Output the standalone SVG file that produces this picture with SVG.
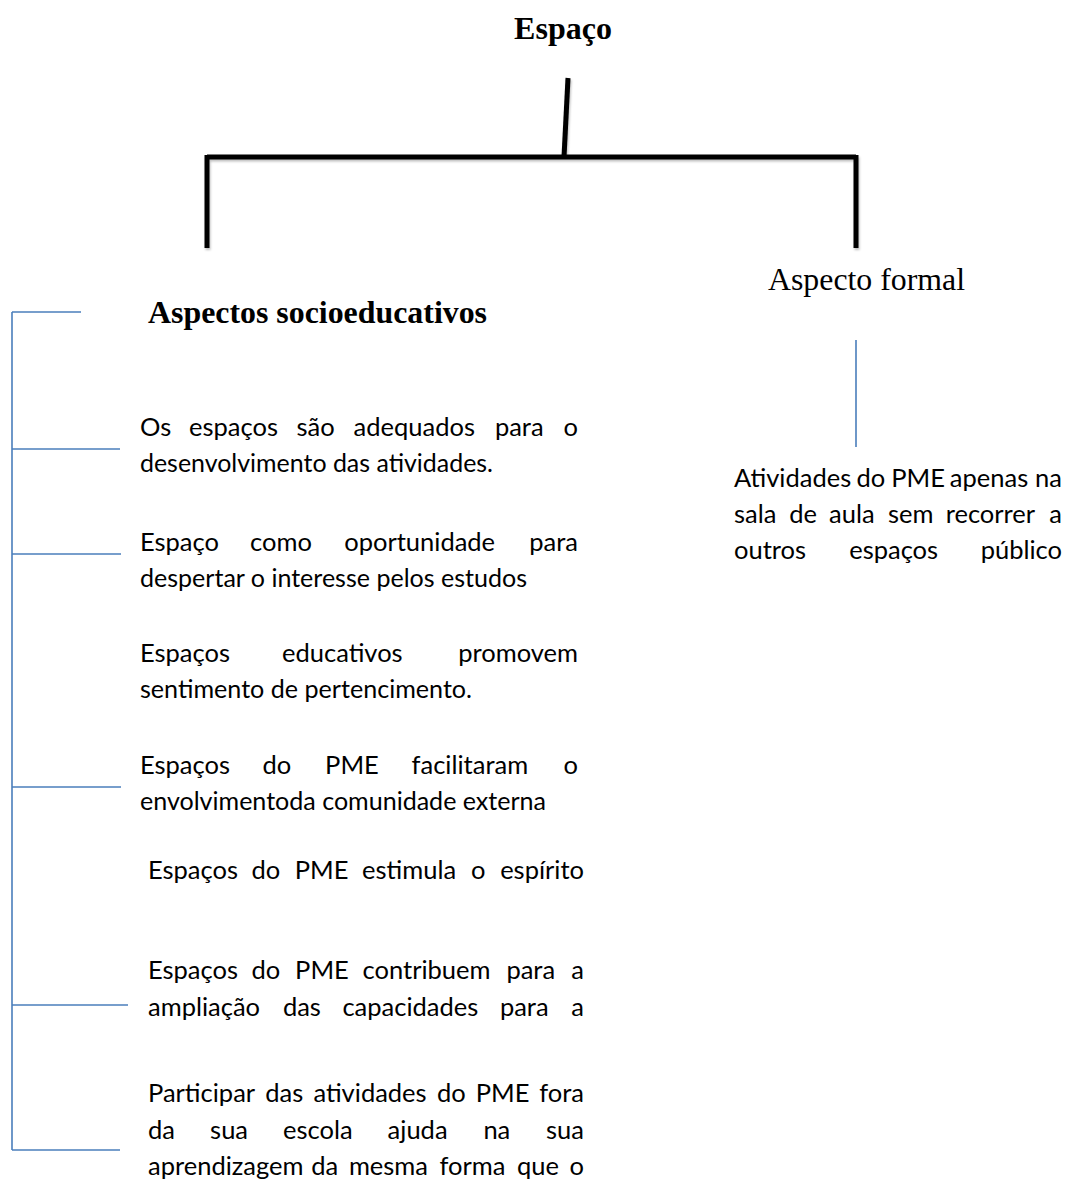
<svg xmlns="http://www.w3.org/2000/svg" width="1066" height="1183" viewBox="0 0 1066 1183">
  <defs>
    <filter id="soft" x="-5%" y="-5%" width="110%" height="120%">
      <feDropShadow dx="1" dy="2" stdDeviation="1.2" flood-color="#000" flood-opacity="0.25"/>
    </filter>
    <style>
      .title { font-family: "Liberation Serif", "Times New Roman", serif; font-size: 32px; fill: #000; }
      .bold { font-weight: bold; }
      .body { font-family: Lato, "Liberation Sans", sans-serif; font-size: 25.5px; fill: #000; }
      .end { text-anchor: end; }
      .tree { fill: none; stroke: #000; stroke-width: 5; stroke-linecap: butt; }
      .blue { fill: none; stroke: #4a7ebb; stroke-width: 1.6; }
    </style>
  </defs>
  <rect width="1066" height="1183" fill="#fff"/>

  <!-- connectors -->
  <g id="connectors">
    <g filter="url(#soft)">
      <path class="tree" d="M568 78 L564 157"/>
      <path class="tree" d="M207 157 L856 157"/>
      <path class="tree" d="M207 155 L207 248"/>
      <path class="tree" d="M856 155 L856 248"/>
    </g>
    <path class="blue" d="M12 312 L12 1150"/>
    <path class="blue" d="M12 312 L81 312"/>
    <path class="blue" d="M12 449 L120 449"/>
    <path class="blue" d="M12 554 L121 554"/>
    <path class="blue" d="M12 787 L121 787"/>
    <path class="blue" d="M12 1005 L128 1005"/>
    <path class="blue" d="M12 1150 L120 1150"/>
    <path class="blue" d="M856 340 L856 447"/>
  </g>

  <!-- root -->
  <g id="espaco">
    <text class="title bold" x="563" y="39" text-anchor="middle">Espaço</text>
  </g>

  <!-- left branch -->
  <g id="socioeducativos">
    <text class="title bold" x="148" y="323" textLength="339" lengthAdjust="spacingAndGlyphs">Aspectos socioeducativos</text>
  </g>

  <!-- justified lines: one text per word, equal gaps -->
  <g id="item-adequados" class="body">
    <text x="140" y="436">Os</text>
    <text x="189" y="436">espaços</text>
    <text x="296.5" y="436">são</text>
    <text x="353.6" y="436">adequados</text>
    <text x="494.9" y="436">para</text>
    <text class="end" x="578" y="436">o</text>
    <text x="140" y="472" textLength="353" lengthAdjust="spacingAndGlyphs">desenvolvimento das atividades.</text>
  </g>

  <g id="item-oportunidade" class="body">
    <text x="140" y="551">Espaço</text>
    <text x="250" y="551">como</text>
    <text x="344.2" y="551">oportunidade</text>
    <text class="end" x="578" y="551">para</text>
    <text x="140" y="587" textLength="387" lengthAdjust="spacingAndGlyphs">despertar o interesse pelos estudos</text>
  </g>

  <g id="item-pertencimento" class="body">
    <text x="140" y="662">Espaços</text>
    <text x="282" y="662">educativos</text>
    <text class="end" x="578" y="662">promovem</text>
    <text x="140" y="698" textLength="332" lengthAdjust="spacingAndGlyphs">sentimento de pertencimento.</text>
  </g>

  <g id="item-comunidade" class="body">
    <text x="140" y="774">Espaços</text>
    <text x="262.6" y="774">do</text>
    <text x="325.1" y="774">PME</text>
    <text x="411.6" y="774">facilitaram</text>
    <text class="end" x="578" y="774">o</text>
    <text x="140" y="810" textLength="406" lengthAdjust="spacingAndGlyphs">envolvimentoda comunidade externa</text>
  </g>

  <g id="item-espirito" class="body">
    <text x="148" y="879">Espaços</text>
    <text x="251.4" y="879">do</text>
    <text x="294.7" y="879">PME</text>
    <text x="362" y="879">estimula</text>
    <text x="471.1" y="879">o</text>
    <text class="end" x="584" y="879">espírito</text>
  </g>

  <g id="item-capacidades" class="body">
    <text x="148" y="979">Espaços</text>
    <text x="251.6" y="979">do</text>
    <text x="295.1" y="979">PME</text>
    <text x="362.6" y="979">contribuem</text>
    <text x="506.4" y="979">para</text>
    <text class="end" x="584" y="979">a</text>
    <text x="148" y="1016">ampliação</text>
    <text x="282.9" y="1016">das</text>
    <text x="342.4" y="1016">capacidades</text>
    <text x="499.9" y="1016">para</text>
    <text class="end" x="584" y="1016">a</text>
  </g>

  <g id="item-aprendizagem" class="body">
    <text x="148" y="1102">Participar</text>
    <text x="265.2" y="1102">das</text>
    <text x="313.4" y="1102">atividades</text>
    <text x="436.9" y="1102">do</text>
    <text x="475.7" y="1102">PME</text>
    <text class="end" x="584" y="1102">fora</text>
    <text x="148" y="1139">da</text>
    <text x="210.1" y="1139">sua</text>
    <text x="283.1" y="1139">escola</text>
    <text x="387.6" y="1139">ajuda</text>
    <text x="483.4" y="1139">na</text>
    <text class="end" x="584" y="1139">sua</text>
    <text x="148" y="1175">aprendizagem</text>
    <text x="311.2" y="1175">da</text>
    <text x="348.9" y="1175">mesma</text>
    <text x="439.6" y="1175">forma</text>
    <text x="516.9" y="1175">que</text>
    <text class="end" x="584" y="1175">o</text>
  </g>

  <!-- right branch -->
  <g id="formal">
    <text class="title" x="768" y="290" textLength="197" lengthAdjust="spacingAndGlyphs">Aspecto formal</text>
  </g>

  <g id="item-sala" class="body">
    <text x="734" y="487">Atividades</text>
    <text x="856.6" y="487">do</text>
    <text x="891.2" y="487">PME</text>
    <text x="949.8" y="487">apenas</text>
    <text class="end" x="1062" y="487">na</text>
    <text x="734" y="523">sala</text>
    <text x="789.2" y="523">de</text>
    <text x="829.1" y="523">aula</text>
    <text x="887.9" y="523">sem</text>
    <text x="945.7" y="523">recorrer</text>
    <text class="end" x="1062" y="523">a</text>
    <text x="734" y="559">outros</text>
    <text x="849.2" y="559">espaços</text>
    <text class="end" x="1062" y="559">público</text>
  </g>
</svg>
